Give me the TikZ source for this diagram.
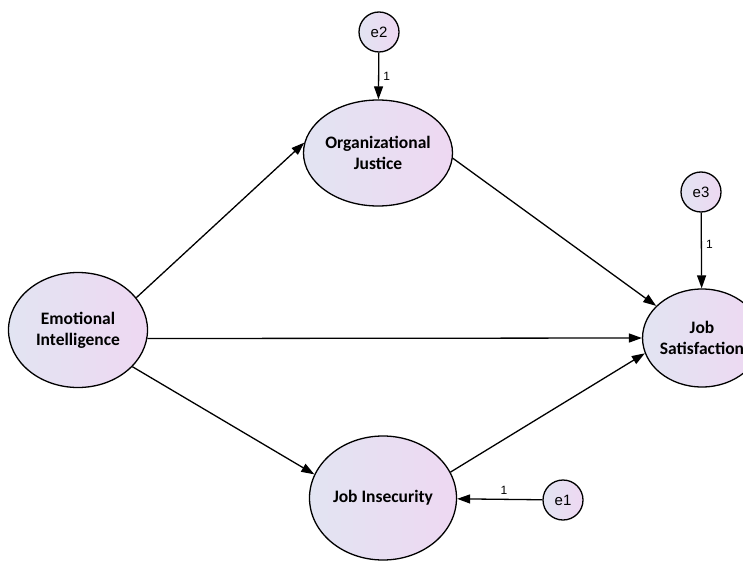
\documentclass[tikz,border=0pt]{standalone}
\usepackage{fontspec}
\setmainfont{Liberation Sans}
\newfontfamily\calfont{Carlito}
\usetikzlibrary{shapes.geometric,arrows.meta}
\definecolor{shadeL}{RGB}{226,228,242}
\definecolor{shadeR}{RGB}{238,216,242}

\begin{document}
\begin{tikzpicture}[x=1pt,y=-1pt,
  latent/.style={ellipse,draw,line width=1.3pt,left color=shadeL,right color=shadeR,align=center,inner sep=0pt,font=\calfont\bfseries\fontsize{17.5}{21}\selectfont},
  errvar/.style={circle,draw,line width=1.3pt,left color=shadeL,right color=shadeR,minimum size=40pt,inner sep=0pt,font=\fontsize{15}{17}\selectfont},
  effect/.style={line width=1.3pt,-{Triangle[length=13pt,width=9pt]}},
  wt/.style={font=\fontsize{12}{14}\selectfont,inner sep=4pt}]

\useasboundingbox (0,0) rectangle (743,561);

\node[latent, minimum width=139pt, minimum height=115pt] (ei) at (78,330) {Emotional\\Intelligence};
\node[latent, minimum width=146pt, minimum height=106pt] (oj) at (378,153) {Organizational\\Justice};
\node[latent, minimum width=110pt, minimum height=98pt] (js) at (702,338) {Job\\Satisfaction};
\node[latent, minimum width=147pt, minimum height=124pt] (ji) at (383,498) {Job Insecurity};

\node[errvar] (e2) at (379,32) {e2};
\node[errvar] (e3) at (701,192) {e3};
\node[errvar] (e1) at (563,500) {e1};

\draw[effect] (ei.29) -- (oj.172);
\draw[effect] (ei.-34) -- (ji.161);
\draw[effect] (ei.-7) -- (js.180);
\draw[effect] (oj.-4) -- (js.145);
\draw[effect] (ji.21) -- (js.195);

\draw[effect] (e2) -- node[wt, right] {1} (oj);
\draw[effect] (e3) -- node[wt, right, pos=0.42] {1} (js);
\draw[effect] (e1) -- node[wt, above, pos=0.45] {1} (ji);
\end{tikzpicture}
\end{document}
